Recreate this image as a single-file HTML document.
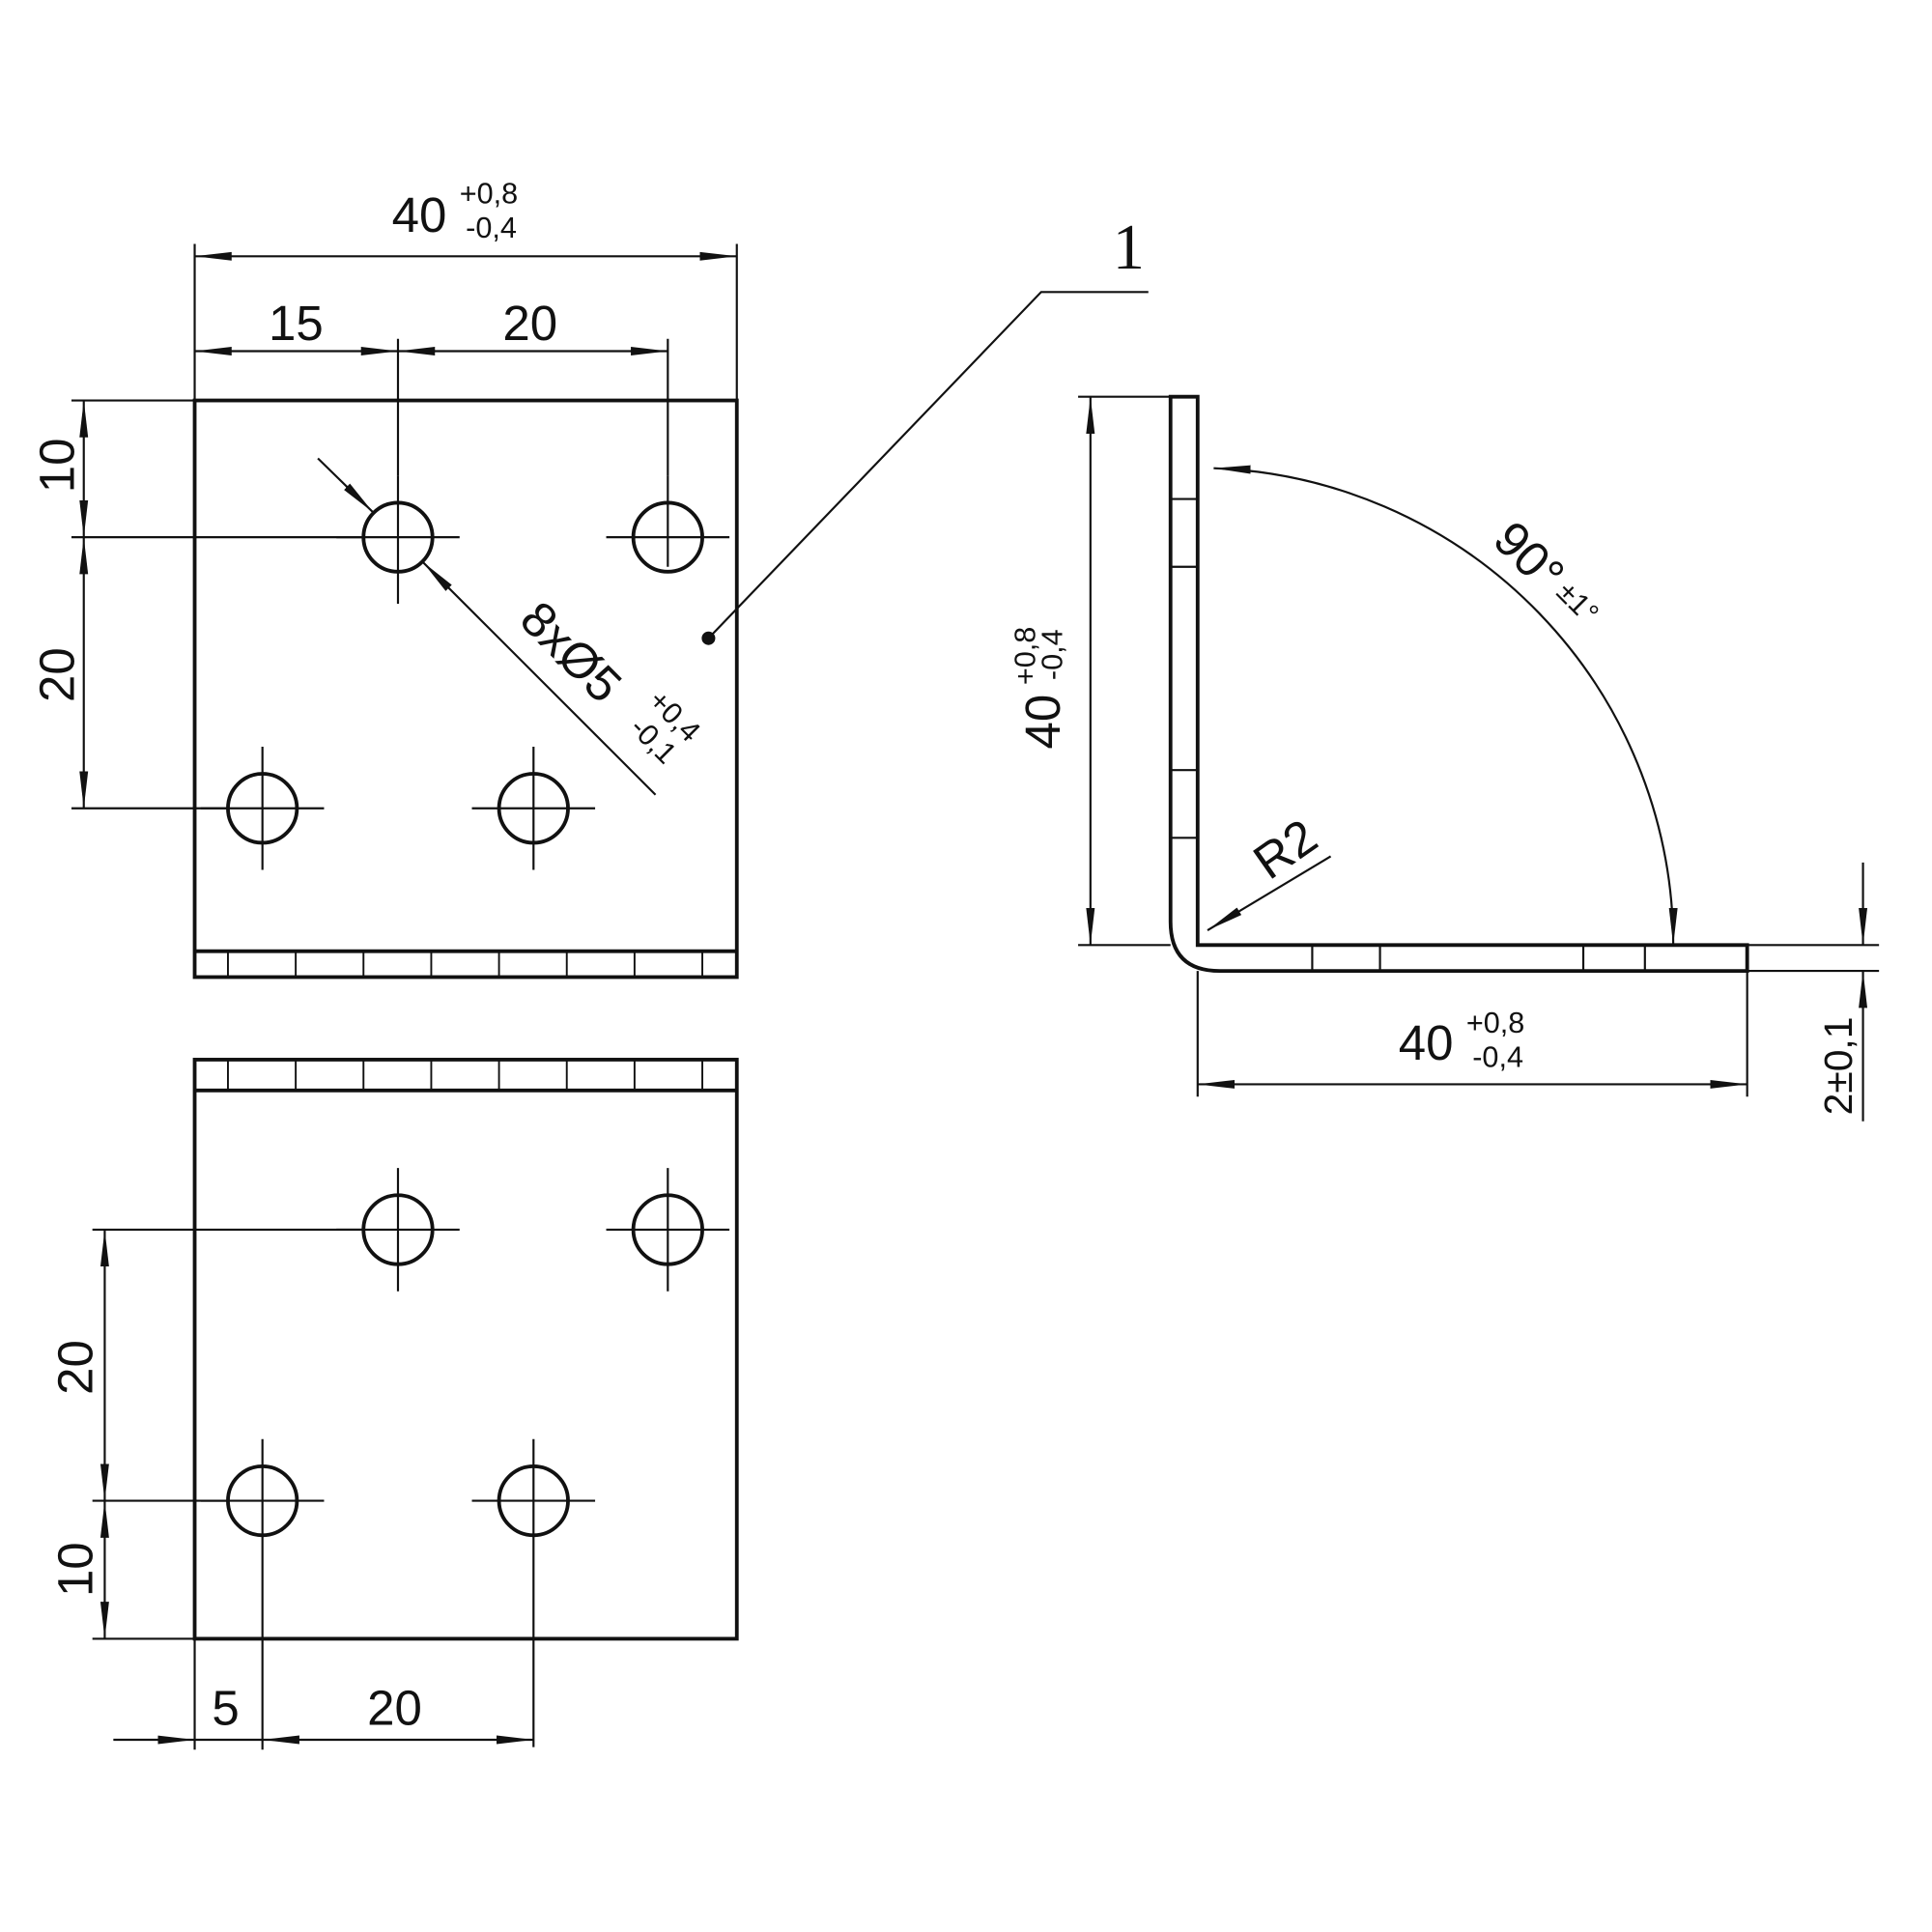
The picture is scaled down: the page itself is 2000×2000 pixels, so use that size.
<!DOCTYPE html>
<html><head><meta charset="utf-8"><style>html,body{margin:0;padding:0;background:#fff}svg{display:block}</style></head>
<body>
<svg width="2000" height="2000" viewBox="0 0 1568 1568" xmlns="http://www.w3.org/2000/svg" font-family="Liberation Sans, sans-serif" fill="none" stroke="#111">
<defs>
<marker id="a" viewBox="0 0 30 10" refX="30" refY="5" markerWidth="30" markerHeight="10" markerUnits="userSpaceOnUse" orient="auto-start-reverse"><path d="M0,1.5 L30,5 L0,8.5 Z" fill="#111" stroke="none"/></marker>
</defs>
<g stroke-width="3">
<rect x="158" y="325" width="440" height="468"/>
<line x1="158" y1="772" x2="598" y2="772"/>
<rect x="158" y="860" width="440" height="470"/>
<line x1="158" y1="885" x2="598" y2="885"/>
</g>
<g stroke-width="1.5">
<path d="M185 772v21M240 772v21M295 772v21M350 772v21M405 772v21M460 772v21M515 772v21M570 772v21"/>
<path d="M185 860v25M240 860v25M295 860v25M350 860v25M405 860v25M460 860v25M515 860v25M570 860v25"/>
</g>
<g stroke-width="3">
<circle cx="323" cy="436" r="28"/><circle cx="542" cy="436" r="28"/><circle cx="213" cy="656" r="28"/><circle cx="433" cy="656" r="28"/>
<circle cx="323" cy="998" r="28"/><circle cx="542" cy="998" r="28"/><circle cx="213" cy="1218" r="28"/><circle cx="433" cy="1218" r="28"/>
</g>
<g stroke-width="1.7">
<path d="M273 436h100M492 436h100M163 656h100M383 656h100M323 386v104M542 386v74M213 606v100M433 606v100"/>
<path d="M273 998h100M492 998h100M163 1218h100M383 1218h100M323 948v100M542 948v100M433 1168v250M213 1168v252"/>
<path d="M158 198v127M598 198v127M542 275v111"/>
<path d="M323 275v111"/>
<line x1="158" y1="208" x2="598" y2="208" marker-start="url(#a)" marker-end="url(#a)"/>
<line x1="158" y1="285" x2="323" y2="285" marker-start="url(#a)" marker-end="url(#a)"/>
<line x1="323" y1="285" x2="542" y2="285" marker-start="url(#a)" marker-end="url(#a)"/>
<path d="M58 325h100M58 436h237M58 656h127"/>
<line x1="68" y1="325" x2="68" y2="436" marker-start="url(#a)" marker-end="url(#a)"/>
<line x1="68" y1="436" x2="68" y2="656" marker-start="url(#a)" marker-end="url(#a)"/>
<polyline points="575,518 845,237 932,237"/>
<line x1="258" y1="372" x2="303" y2="416" marker-end="url(#a)"/>
<line x1="532" y1="645" x2="343" y2="456" marker-end="url(#a)"/>
<path d="M75 998h220M75 1218h110M75 1330h83M158 1330v90"/>
<line x1="85" y1="998" x2="85" y2="1218" marker-start="url(#a)" marker-end="url(#a)"/>
<line x1="85" y1="1218" x2="85" y2="1330" marker-start="url(#a)" marker-end="url(#a)"/>
<line x1="92" y1="1412" x2="158" y2="1412" marker-end="url(#a)"/>
<line x1="213" y1="1412" x2="433" y2="1412" marker-start="url(#a)" marker-end="url(#a)"/>
<line x1="158" y1="1412" x2="213" y2="1412"/>
</g>
<circle cx="575" cy="518" r="5" fill="#111"/>
<path d="M950 322 H972 V767 H1418 V788 H990 Q950 788 950 748 Z" stroke-width="3"/>
<g stroke-width="1.7">
<path d="M950 405h22M950 460h22M950 625h22M950 680h22M1065 767v21M1120 767v21M1285 767v21M1335 767v21"/>
<path d="M875 322h75M875 767h75M972 788v102M1418 788v102M1418 767h107M1418 788h107"/>
<line x1="885" y1="322" x2="885" y2="767" marker-start="url(#a)" marker-end="url(#a)"/>
<line x1="972" y1="880" x2="1418" y2="880" marker-start="url(#a)" marker-end="url(#a)"/>
<line x1="1512" y1="700" x2="1512" y2="767" marker-end="url(#a)"/>
<line x1="1512" y1="910" x2="1512" y2="788" marker-end="url(#a)"/>
<path d="M985 380 A387 387 0 0 1 1358 767" marker-start="url(#a)" marker-end="url(#a)"/>
<line x1="1080" y1="695" x2="980" y2="755" marker-end="url(#a)"/>
</g>
<g fill="#111" stroke="none">
<text x="318" y="188" font-size="40">40</text>
<text x="373" y="165" font-size="24">+0,8</text>
<text x="378" y="193" font-size="24">-0,4</text>
<text x="218" y="276" font-size="40">15</text>
<text x="408" y="276" font-size="40">20</text>
<text x="903" y="218" font-size="52" font-family="Liberation Serif, serif">1</text>
<text transform="translate(60,400) rotate(-90)" font-size="40">10</text>
<text transform="translate(60,570) rotate(-90)" font-size="40">20</text>
<text transform="translate(75,1132) rotate(-90)" font-size="40">20</text>
<text transform="translate(75,1296) rotate(-90)" font-size="40">10</text>
<text x="172" y="1400" font-size="40">5</text>
<text x="298" y="1400" font-size="40">20</text>
<text transform="translate(420,505) rotate(45)" font-size="40">8xØ5</text>
<text transform="translate(525,570) rotate(45)" font-size="24">+0,4</text>
<text transform="translate(510,592) rotate(45)" font-size="24">-0,1</text>
<text transform="translate(860,608) rotate(-90)" font-size="40">40</text>
<text transform="translate(840,556) rotate(-90)" font-size="24">+0,8</text>
<text transform="translate(862,552) rotate(-90)" font-size="24">-0,4</text>
<text x="1135" y="860" font-size="40">40</text>
<text x="1190" y="838" font-size="24">+0,8</text>
<text x="1195" y="866" font-size="24">-0,4</text>
<text transform="translate(1210,440) rotate(45)" font-size="40">90°</text>
<text transform="translate(1262,482) rotate(45)" font-size="24">±1°</text>
<text transform="translate(1030,715) rotate(-35)" font-size="40">R2</text>
<text transform="translate(1503,905) rotate(-90)" font-size="32">2±0,1</text>
</g>
</svg>
</body></html>
